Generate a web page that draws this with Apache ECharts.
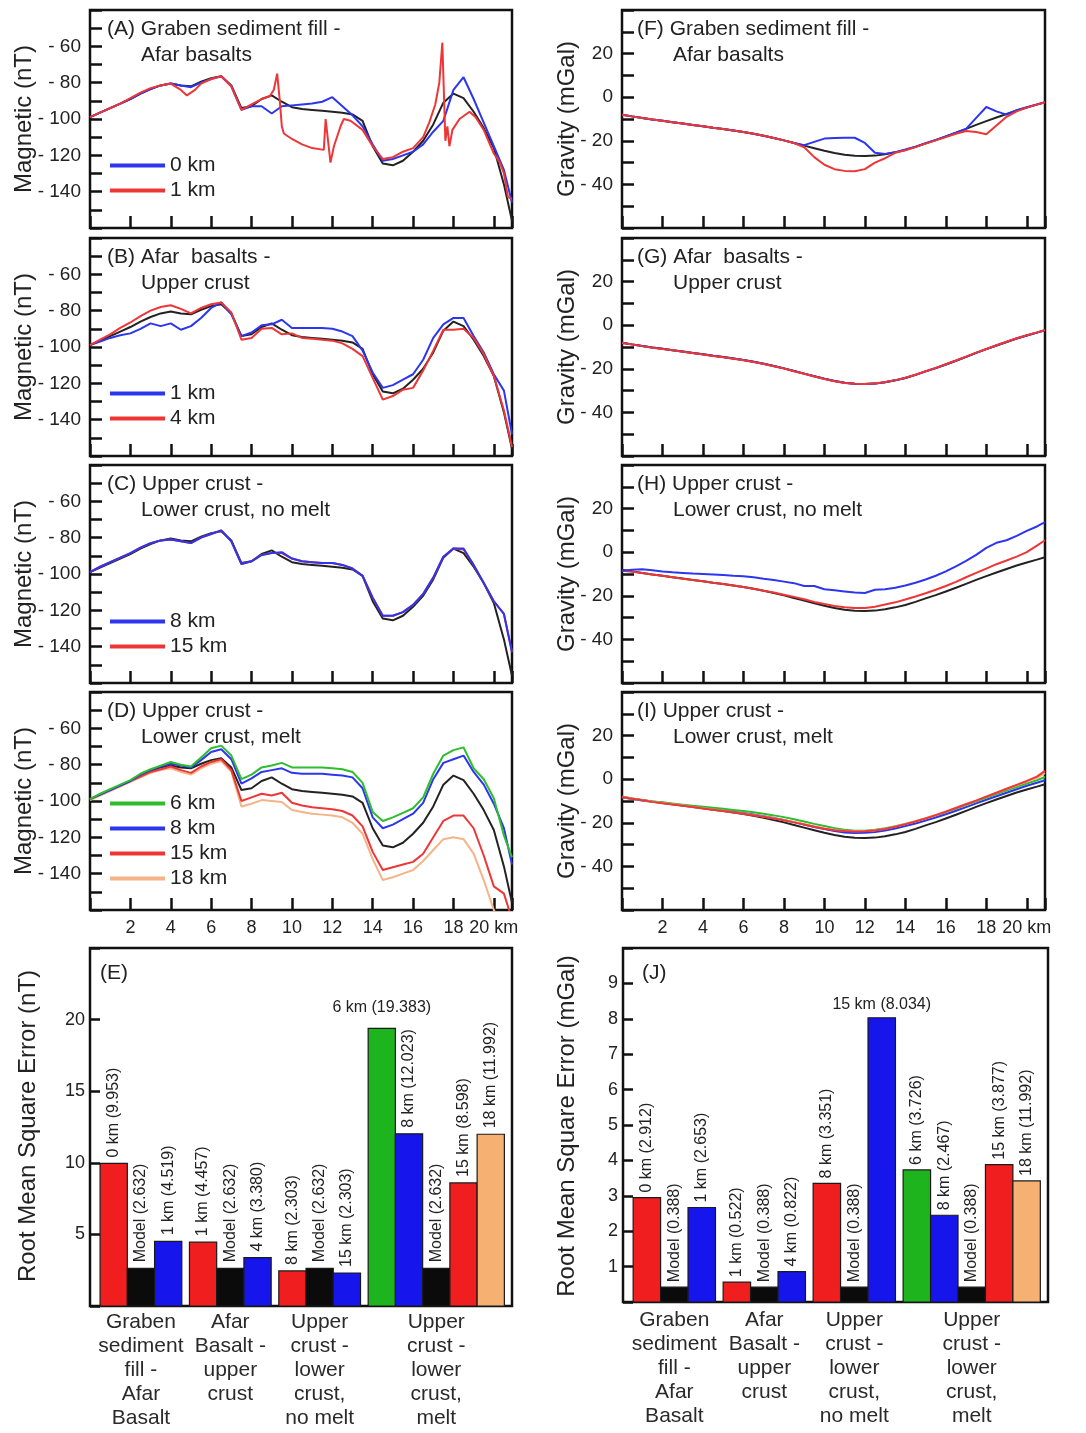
<!DOCTYPE html>
<html><head><meta charset="utf-8">
<script src="https://cdn.jsdelivr.net/npm/echarts/dist/echarts.min.js"></script>
<style>html,body{margin:0;padding:0;background:#fff}#c{width:1086px;height:1433px}</style>
</head><body><div id="c"></div>
<script>
// ---------------- DATA ----------------
const KM = [0,0.5,1,1.5,2,2.5,3,3.5,4,4.5,5,5.5,6,6.5,7,7.5,8,8.5,9,9.5,10,10.5,11,11.5,12,12.5,13,13.5,14,14.5,15,15.5,16,16.5,17,17.5,18,18.5,19,19.5,20,20.5,20.9];

// magnetic (nT)
const MAG_OBS = [-99,-96.5,-94,-91.5,-89,-86,-83.5,-81.5,-80.5,-81.5,-82,-79.5,-77.5,-76.5,
  -81.5,-94,-93,-89,-87,-90.5,-93.5,-94.5,-95,-95.5,-96,-96.5,-97.5,-101,
  -115,-124.5,-125.5,-123,-118,-112,-103,-91,-86,-88.5,-96,-105,-116,-136,-156];
const A_BLUE_NT = [-99,-96.5,-94,-91.5,-89,-86,-83.5,-81.5,-80.5,-81.5,-82.5,-80,-78,-76.5,
  -82,-95,-93,-93,-97,-93,-92.5,-92,-91.5,-90.5,-88,-93,-98,-104,
  -114,-123,-122,-120,-118,-114,-107,-101,-84,-77,-89,-102,-115,-128,-146];
const A_RED_KM = [0,0.5,1,1.5,2,2.5,3,3.5,4,4.5,4.8,5.2,5.5,6,6.5,7,7.5,8,8.5,8.9,
  9.1,9.27,9.4,9.5,9.6,10,10.5,11,11.58,11.67,11.75,11.91,12.08,12.41,12.57,12.9,13.5,14,14.5,15,
  15.5,16,16.5,16.8,17.1,17.3,17.45,17.6,17.7,17.8,17.95,18.3,18.8,19.1,19.5,20,20.3,20.5,20.7,20.9];
const A_RED_NT = [-99,-96.5,-94,-91.5,-88.5,-85.5,-83,-81.5,-80.5,-84,-87,-84,-80.5,-78,-76.5,-82,-95,-92,-89,-87.5,
  -84,-75,-90,-104,-108,-111,-114,-116,-117,-100,-100,-124,-115,-104,-100,-101,-106,-115,-122,-121,
  -118,-116,-110,-102,-92,-80,-58,-112,-104,-115,-106,-100,-96,-99,-106,-119,-124,-130,-143,-144];
const B_BLUE_NT = [-99,-97,-95,-93.5,-92.5,-90,-87,-88.5,-87,-90.5,-88.5,-84,-78.5,-75.5,
  -82,-94,-92,-88,-87.5,-85,-89.5,-89.5,-89.5,-89.5,-90,-91.5,-94,-102,
  -114,-122.5,-121,-118,-115,-107,-95,-87.5,-84,-84,-94,-103,-115,-124,-148];
const B_RED_NT = [-99,-96,-93,-89.5,-86.5,-83,-80,-78,-77,-79,-81.5,-78.5,-76.5,-75.5,
  -81,-96,-95,-90,-89.5,-93,-92.5,-95,-95.5,-96,-96.5,-98,-101,-105,
  -117,-129,-127,-123.5,-122.5,-113,-102,-90.5,-90.5,-90,-95,-104,-116,-135,-155];
const C_BLUE_NT = [-99,-96,-93.5,-91,-88.5,-85.5,-83,-81.5,-81,-82,-83,-80,-78,-76,
  -82,-94.5,-93,-89.5,-88.5,-88,-91.5,-93,-93.5,-94,-94,-95,-97,-101,
  -113,-123,-123,-121,-117,-111,-102,-90.5,-86,-86,-95,-105,-115,-122,-143];
const C_RED_NT = [-99,-96,-93.5,-91,-88.5,-85.5,-83,-81.5,-81,-82,-83,-80,-78,-76,
  -82,-94.5,-93,-89.5,-88.5,-88.5,-91.5,-93,-93.5,-94,-94,-95,-97,-101,
  -113,-123,-123,-121,-117,-111,-102,-90.5,-86,-86.5,-95,-105,-115,-122,-143];
const D_GREEN_NT = [-99,-96,-93.5,-91,-88.5,-85,-82.5,-80.5,-78.5,-80,-81,-76,-71,-69.5,
  -75,-88,-85.5,-81.5,-80.5,-79,-81.5,-81.5,-81.5,-81.5,-82,-82.5,-84,-90,
  -106,-111,-109,-106.5,-104,-98,-85,-75,-72,-70.5,-82,-88,-98.5,-119,-131];
const D_BLUE_NT = [-99,-96.5,-94,-91.5,-89,-85.5,-83,-81,-79.5,-80.5,-81.5,-77.5,-73,-71.5,
  -77,-90.5,-87.5,-84,-83,-82,-84.5,-85,-85,-85,-85.5,-86,-87,-93,
  -109,-115,-113,-110,-107,-101,-88,-79,-77,-75,-84,-91,-101.5,-115,-135];
const D_RED_NT = [-99,-96.5,-94,-91.5,-89,-86.5,-84,-82.5,-81,-83,-84.5,-81,-78.5,-77,
  -83,-100,-98,-96,-97,-95.5,-101,-102.5,-103.5,-104,-104.5,-105.5,-108,-114,
  -128,-138,-136.5,-135,-133.5,-129,-120,-111,-108,-108,-115,-130,-147,-151,-165];
const D_ORANGE_NT = [-99.5,-97,-94.5,-92,-89.5,-87,-84.5,-83,-82,-84,-85.5,-82,-79.5,-78,
  -84,-103,-101.5,-99.5,-100,-100.5,-105,-106,-107,-107.5,-108,-109,-112,-118,
  -132,-143.5,-142,-140,-138,-133,-127,-121,-120,-121,-129,-143.5,-160,-170,-175];

// gravity (mGal)
const GRAV_OBS = [-8,-8.8,-9.5,-10.2,-10.8,-11.5,-12.1,-12.7,-13.3,-14,-14.6,-15.3,-16,-16.8,
  -17.7,-18.7,-19.8,-21,-22.2,-23.4,-24.6,-25.6,-26.4,-26.9,-27,-26.8,-26.2,-25.3,
  -24.2,-22.8,-21.2,-19.7,-18,-16.3,-14.5,-12.7,-11,-9.3,-7.7,-6.1,-4.7,-3.4,-2.3];
const F_BLUE_MGAL = [-8,-8.8,-9.5,-10.2,-10.8,-11.5,-12.1,-12.7,-13.3,-14,-14.6,-15.3,-16,-16.8,
  -17.7,-18.7,-19.8,-21,-22,-20.5,-19,-18.7,-18.6,-18.6,-21,-25.5,-26,-25.2,
  -24,-22.7,-21.1,-19.6,-18,-16.3,-14.5,-9.5,-4.5,-6.5,-8,-6,-4.6,-3.3,-2.3];
const F_RED_MGAL = [-8,-8.8,-9.5,-10.2,-10.8,-11.5,-12.1,-12.7,-13.3,-14,-14.6,-15.3,-16,-16.8,
  -17.7,-18.7,-19.8,-21,-23,-27.5,-31,-33,-33.8,-34,-33,-30,-28,-25.5,
  -24.3,-22.9,-21.3,-19.8,-18.3,-16.8,-15.5,-16,-17,-13,-9,-6.5,-4.8,-3.4,-2.3];
const G_BLUE_MGAL = [-8,-8.8,-9.5,-10.2,-10.8,-11.5,-12.1,-12.7,-13.3,-14,-14.6,-15.3,-16,-16.8,
  -17.7,-18.7,-19.8,-21,-22.2,-23.4,-24.6,-25.6,-26.4,-26.9,-27,-26.8,-26.2,-25.3,
  -24.2,-22.8,-21.2,-19.7,-18,-16.3,-14.5,-12.7,-11,-9.3,-7.7,-6.1,-4.7,-3.4,-2.3];
const G_RED_MGAL = [-8.2,-8.9,-9.6,-10.3,-10.9,-11.5,-12.2,-12.8,-13.4,-14.1,-14.7,-15.4,-16.1,-16.9,
  -17.8,-18.8,-19.9,-21.1,-22.3,-23.5,-24.7,-25.7,-26.5,-26.9,-27,-26.7,-26.1,-25.2,
  -24.1,-22.7,-21.1,-19.6,-17.9,-16.2,-14.4,-12.6,-10.9,-9.2,-7.6,-6,-4.6,-3.3,-2.2];
const H_BLUE_MGAL = [-8.5,-8,-7.8,-8.3,-8.8,-9.2,-9.5,-9.8,-10,-10.2,-10.5,-10.8,-11,-11.5,
  -12.2,-12.8,-13.5,-14.2,-15.5,-15.5,-17,-17.5,-18,-18.5,-18.7,-17.2,-17,-16.3,
  -15.3,-14,-12.5,-10.8,-8.8,-6.5,-4,-1.2,2,4.3,5.5,7.5,9.8,11.8,13.8];
const H_RED_MGAL = [-8.5,-9,-9.5,-10.2,-10.8,-11.5,-12.2,-12.8,-13.3,-14,-14.6,-15.3,-16,-16.8,
  -17.7,-18.5,-19.5,-20.5,-21.6,-22.8,-23.8,-24.7,-25.3,-25.6,-25.6,-25,-24,-23,
  -21.7,-20.3,-18.8,-17.2,-15.5,-13.6,-11.5,-9.5,-7.5,-5.5,-3.8,-2,0,3,5.5];
const I_GREEN_MGAL = [-8.2,-9,-9.6,-10.2,-10.6,-11.2,-11.7,-12.2,-12.6,-13.1,-13.6,-14.1,-14.6,-15.2,
  -15.9,-16.6,-17.4,-18.4,-19.4,-20.5,-21.5,-22.5,-23.2,-23.6,-23.6,-23.2,-22.5,-21.6,
  -20.5,-19.3,-18,-16.6,-15.1,-13.5,-11.8,-10.1,-8.4,-6.8,-5.2,-3.6,-2,-0.5,1];
const I_BLUE_MGAL = [-8.3,-9.1,-9.8,-10.4,-10.9,-11.5,-12.1,-12.6,-13.1,-13.7,-14.3,-14.9,-15.5,-16.2,
  -17,-17.8,-18.7,-19.7,-20.8,-21.9,-22.9,-23.8,-24.4,-24.7,-24.6,-24.2,-23.5,-22.6,
  -21.5,-20.3,-19,-17.6,-16.1,-14.5,-12.8,-11.1,-9.4,-7.8,-6.2,-4.6,-3,-1.6,-0.5];
const I_RED_MGAL = [-8.2,-9,-9.7,-10.4,-11,-11.6,-12.2,-12.8,-13.4,-14,-14.6,-15.2,-15.8,-16.5,
  -17.2,-18,-18.8,-19.8,-20.8,-21.8,-22.7,-23.4,-23.8,-24,-23.9,-23.5,-22.8,-21.8,
  -20.7,-19.4,-18,-16.5,-14.9,-13.2,-11.5,-9.8,-8,-6.2,-4.4,-2.6,-0.8,1.2,3.8];
const I_ORANGE_MGAL = [-8.1,-8.9,-9.6,-10.3,-10.9,-11.5,-12.1,-12.7,-13.3,-13.9,-14.5,-15.1,-15.7,-16.4,
  -17.1,-17.9,-18.7,-19.6,-20.6,-21.6,-22.5,-23.2,-23.7,-23.9,-23.8,-23.4,-22.7,-21.7,
  -20.6,-19.3,-17.9,-16.4,-14.8,-13.1,-11.4,-9.7,-7.9,-6.2,-4.5,-2.8,-1.1,0.6,2.8];

// RMS bars
const GROUP_NAMES = ['Graben\nsediment\nfill -\nAfar\nBasalt','Afar\nBasalt -\nupper\ncrust','Upper\ncrust -\nlower\ncrust,\nno melt','Upper\ncrust -\nlower\ncrust,\nmelt'];
const GROUP_SIZES = [3,3,3,5];
const E_RMS = [9.953,2.632,4.519,4.457,2.632,3.38,2.45,2.632,2.303,19.383,12.023,2.632,8.598,11.992];
const E_LABELS = ['0 km (9.953)','Model (2.632)','1 km (4.519)','1 km (4.457)','Model (2.632)','4 km (3.380)','8 km (2.303)','Model (2.632)','15 km (2.303)','6 km (19.383)','8 km (12.023)','Model (2.632)','15 km (8.598)','18 km (11.992)'];
const J_RMS = [2.95,0.42,2.67,0.56,0.42,0.86,3.35,0.42,8.03,3.73,2.45,0.42,3.88,3.42];
const J_LABELS = ['0 km (2.912)','Model (0.388)','1 km (2.653)','1 km (0.522)','Model (0.388)','4 km (0.822)','8 km (3.351)','Model (0.388)','15 km (8.034)','6 km (3.726)','8 km (2.467)','Model (0.388)','15 km (3.877)','18 km (11.992)'];

// ---------------- STYLE ----------------
const FONT = "'Liberation Sans', Arial, Helvetica, sans-serif";
const LC = {red:'#ee3636', blue:'#2b36ee', green:'#2dbd2d', orange:'#f5b388', black:'#222222'};
const BC = {red:'#f01e1e', blue:'#1515ec', black:'#0b0b0b', green:'#1eb41e', orange:'#f6b172'};
const BAR_COLORS = ['red','black','blue','red','black','blue','red','black','blue','green','blue','black','red','orange'];
const TXT = '#222';

const COL_X = [90, 622], COL_W = [422, 423], ROW_TOPS = [10, 238, 465, 692], ROW_H = 218;

const linePanels = [
  {k:'A', col:0, row:0, mag:true, t1:'(A) Graben sediment fill -', t2:'Afar basalts', base:MAG_OBS,
   lines:[{n:'0 km', c:'blue', y:A_BLUE_NT}, {n:'1 km', c:'red', x:A_RED_KM, y:A_RED_NT}], legend:['0 km','1 km'], legTop:145},
  {k:'B', col:0, row:1, mag:true, t1:'(B) Afar  basalts -', t2:'Upper crust', base:MAG_OBS,
   lines:[{n:'1 km', c:'blue', y:B_BLUE_NT}, {n:'4 km', c:'red', y:B_RED_NT}], legend:['1 km','4 km'], legTop:145},
  {k:'C', col:0, row:2, mag:true, t1:'(C) Upper crust -', t2:'Lower crust, no melt', base:MAG_OBS,
   lines:[{n:'15 km', c:'red', y:C_RED_NT}, {n:'8 km', c:'blue', y:C_BLUE_NT}], legend:['8 km','15 km'], legTop:146},
  {k:'D', col:0, row:3, mag:true, t1:'(D) Upper crust -', t2:'Lower crust, melt', base:MAG_OBS,
   lines:[{n:'18 km', c:'orange', y:D_ORANGE_NT}, {n:'15 km', c:'red', y:D_RED_NT}, {n:'8 km', c:'blue', y:D_BLUE_NT}, {n:'6 km', c:'green', y:D_GREEN_NT}], legend:['6 km','8 km','15 km','18 km'], legTop:101, xlabels:true},
  {k:'F', col:1, row:0, mag:false, t1:'(F) Graben sediment fill -', t2:'Afar basalts', base:GRAV_OBS,
   lines:[{n:'0 km', c:'blue', y:F_BLUE_MGAL}, {n:'1 km', c:'red', y:F_RED_MGAL}]},
  {k:'G', col:1, row:1, mag:false, t1:'(G) Afar  basalts -', t2:'Upper crust', base:GRAV_OBS,
   lines:[{n:'1 km', c:'blue', y:G_BLUE_MGAL}, {n:'4 km', c:'red', y:G_RED_MGAL}]},
  {k:'H', col:1, row:2, mag:false, t1:'(H) Upper crust -', t2:'Lower crust, no melt', base:GRAV_OBS,
   lines:[{n:'15 km', c:'red', y:H_RED_MGAL}, {n:'8 km', c:'blue', y:H_BLUE_MGAL}]},
  {k:'I', col:1, row:3, mag:false, t1:'(I) Upper crust -', t2:'Lower crust, melt', base:GRAV_OBS,
   lines:[{n:'8 km', c:'blue', y:I_BLUE_MGAL}, {n:'6 km', c:'green', y:I_GREEN_MGAL}, {n:'18 km', c:'orange', y:I_ORANGE_MGAL}, {n:'15 km', c:'red', y:I_RED_MGAL}], xlabels:true}
];

const pairs = (xs, ys) => xs.map((x, i) => [x, ys[i]]);
const tickStyle = (len) => ({show:true, inside:true, length:len, lineStyle:{color:'#111', width:2.5}});

const grids = [], xAxes = [], yAxes = [], series = [], legends = [], graphics = [];

linePanels.forEach((p, gi) => {
  const left = COL_X[p.col], top = ROW_TOPS[p.row];
  grids.push({left, top, width: COL_W[p.col], height: ROW_H, show:true, borderColor:'#111', borderWidth:2.5, containLabel:false, outerBoundsMode:'none'});
  xAxes.push({type:'value', gridIndex:gi, position:'bottom', min:0, max:20.9, interval:2,
    axisLine:{show:false, onZero:false}, splitLine:{show:false}, axisTick:tickStyle(12),
    axisLabel:{show:!!p.xlabels, margin:9, fontSize:18, color:TXT, fontFamily:FONT, hideOverlap:false,
      formatter: v => v === 20 ? '20 km' : (v > 0 && v < 20 && v % 2 === 0 ? String(v) : '')}});
  const ymin = p.mag ? -160 : -60, ymax = p.mag ? -40 : 40;
  yAxes.push({type:'value', gridIndex:gi, position:'left', min:ymin, max:ymax, interval:10,
    axisLine:{show:false, onZero:false}, splitLine:{show:false}, axisTick:tickStyle(12),
    axisLabel:{margin:9, fontSize:19, color:TXT, fontFamily:FONT, hideOverlap:false,
      formatter: v => (v % 20 === 0 && v > ymin && v < ymax) ? (v < 0 ? '- ' + (-v) : String(v)) : ''}});
  series.push({type:'line', name:p.k + '|obs', xAxisIndex:gi, yAxisIndex:gi, data:pairs(KM, p.base),
    symbol:'none', showSymbol:false, color:LC.black, lineStyle:{color:LC.black, width:2}, animation:false, silent:true});
  p.lines.forEach(l => {
    series.push({type:'line', name:p.k + '|' + l.n, xAxisIndex:gi, yAxisIndex:gi, data:pairs(l.x || KM, l.y),
      symbol:'none', showSymbol:false, color:LC[l.c], lineStyle:{color:LC[l.c], width:2}, animation:false, silent:true});
  });
  if (p.legend) {
    legends.push({data:p.legend.map(n => p.k + '|' + n), orient:'vertical', left:110, top: top + p.legTop,
      icon:'rect', itemWidth:55, itemHeight:4, itemGap:4, padding:0, selectedMode:false,
      formatter: n => n.split('|')[1], textStyle:{fontSize:21, color:TXT, fontFamily:FONT}});
  }
  const tx1 = p.col ? 637 : 107, tx2 = p.col ? 673 : 141;
  graphics.push({type:'text', x:tx1, y:top + 19, style:{text:p.t1, fontSize:21, fill:TXT, fontFamily:FONT, verticalAlign:'middle'}});
  graphics.push({type:'text', x:tx2, y:top + 45, style:{text:p.t2, fontSize:21, fill:TXT, fontFamily:FONT, verticalAlign:'middle'}});
  graphics.push({type:'text', x: p.col ? 567 : 24, y: top + ROW_H / 2, rotation:Math.PI / 2,
    style:{text: p.mag ? 'Magnetic (nT)' : 'Gravity (mGal)', fontSize:24, fill:TXT, fontFamily:FONT, align:'center', verticalAlign:'middle'}});
});

// ---------- bar panels ----------
const BAR_PAD = 0.37, BAR_GAP = 0.28, BAR_PAD_R = 0.28;
function barLayout(sizes) {
  const centers = [], groupCenters = []; let cur = BAR_PAD;
  sizes.forEach(n => { for (let i = 0; i < n; i++) centers.push(cur + i + 0.5); groupCenters.push(cur + n / 2); cur += n + BAR_GAP; });
  return {centers, groupCenters, max: cur - BAR_GAP + BAR_PAD_R};
}
const barPanels = [
  {k:'(E)', left:90, width:422, height:358, vals:E_RMS, labels:E_LABELS, ymax:25, yint:5, hGap:13, vGap:6, gOff:4,
   title:'Root Mean Square Error (nT)', tx:28, ty:1126, kx:100},
  {k:'(J)', left:623, width:425, height:354, vals:J_RMS, labels:J_LABELS, ymax:10, yint:1, hGap:5, vGap:5, gOff:6,
   title:'Root Mean Square Error (mGal)', tx:567, ty:1126, kx:642}
];
barPanels.forEach(b => {
  const gi = grids.length;
  const L = barLayout(GROUP_SIZES);
  grids.push({left:b.left, top:948, width:b.width, height:b.height, show:true, borderColor:'#111', borderWidth:2.5, containLabel:false, outerBoundsMode:'none'});
  xAxes.push({type:'value', gridIndex:gi, min:0, max:L.max, show:false});
  yAxes.push({type:'value', gridIndex:gi, min:0, max:b.ymax, interval:b.yint,
    axisLine:{show:false, onZero:false}, splitLine:{show:false}, axisTick:tickStyle(10),
    axisLabel:{margin:5, fontSize:18, color:TXT, fontFamily:FONT, hideOverlap:false,
      formatter: v => (v > 0 && v < b.ymax) ? String(v) : ''}});
  const maxI = b.vals.indexOf(Math.max(...b.vals));
  series.push({type:'custom', xAxisIndex:gi, yAxisIndex:gi, clip:false, animation:false, silent:true,
    data: b.vals.map((v, i) => [L.centers[i], v, i]),
    renderItem: (params, api) => {
      const x = api.value(0), v = api.value(1), i = api.value(2);
      const tl = api.coord([x - 0.5, v]), br = api.coord([x + 0.5, 0]);
      const cx = (tl[0] + br[0]) / 2;
      const lbl = (i === maxI)
        ? {type:'text', x:cx, y:tl[1] - b.hGap, style:{text:b.labels[i], fontSize:16, fill:TXT, fontFamily:FONT, align:'center', verticalAlign:'bottom'}}
        : {type:'text', x:cx, y:tl[1] - b.vGap, rotation:Math.PI / 2, style:{text:b.labels[i], fontSize:16, fill:TXT, fontFamily:FONT, align:'left', verticalAlign:'middle'}};
      return {type:'group', children:[
        {type:'rect', shape:{x:tl[0], y:tl[1], width:br[0] - tl[0], height:br[1] - tl[1]}, style:{fill:BC[BAR_COLORS[i]], stroke:'#1a1a1a', lineWidth:1.2}},
        lbl]};
    }});
  series.push({type:'custom', xAxisIndex:gi, yAxisIndex:gi, clip:false, animation:false, silent:true,
    data: L.groupCenters.map((c, g) => [c, 0, g]),
    renderItem: (params, api) => {
      const p = api.coord([api.value(0), 0]);
      return {type:'text', x:p[0], y:p[1] + b.gOff, style:{text:GROUP_NAMES[api.value(2)], fontSize:21, lineHeight:24, fill:'#2a2a2a', fontFamily:FONT, align:'center', verticalAlign:'top'}};
    }});
  graphics.push({type:'text', x:b.kx, y:973, style:{text:b.k, fontSize:21, fill:TXT, fontFamily:FONT, verticalAlign:'middle'}});
  graphics.push({type:'text', x:b.tx, y:b.ty, rotation:Math.PI / 2, style:{text:b.title, fontSize:24, fill:TXT, fontFamily:FONT, align:'center', verticalAlign:'middle'}});
});

const chart = echarts.init(document.getElementById('c'), null, {renderer:'canvas'});
chart.setOption({
  backgroundColor:'#ffffff', animation:false,
  grid:grids, xAxis:xAxes, yAxis:yAxes, series:series, legend:legends, graphic:graphics
});
</script></body></html>
